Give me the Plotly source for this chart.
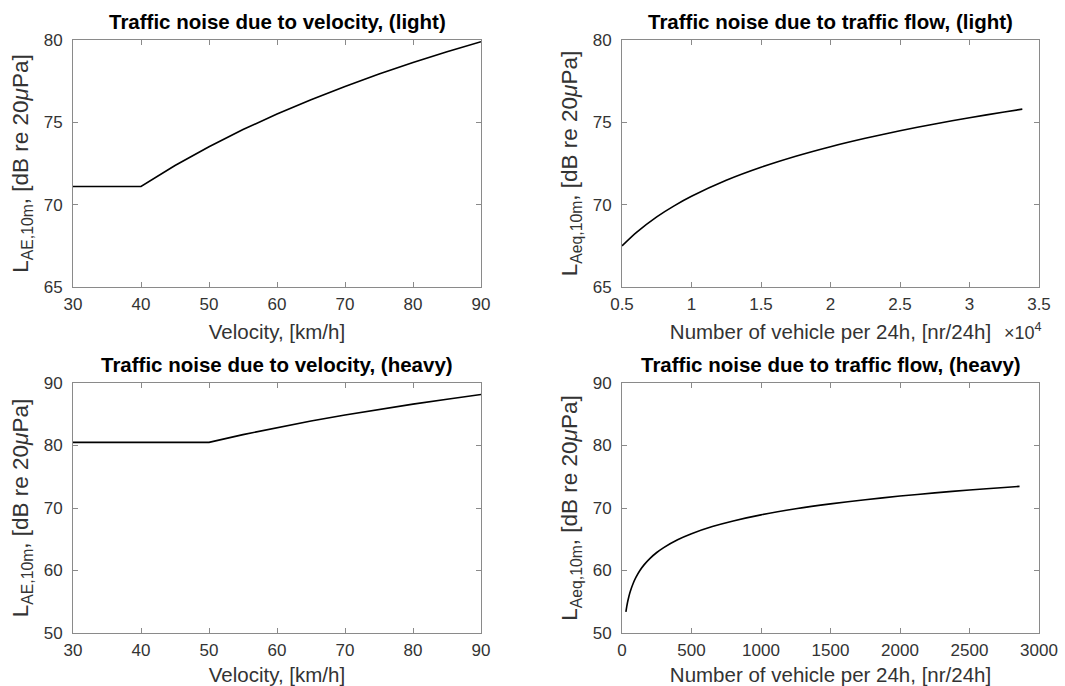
import plotly.graph_objects as go

# --- Light vehicles: sound exposure level vs velocity ---
vel_light = [30, 40, 45, 50, 55, 60, 65, 70, 75, 80, 85, 90]
lae_light = [71.10, 71.10, 72.38, 73.52, 74.56, 75.50, 76.37, 77.18, 77.93, 78.63, 79.28, 79.90]

# --- Heavy vehicles: sound exposure level vs velocity ---
vel_heavy = [30, 50, 55, 60, 65, 70, 75, 80, 85, 90]
lae_heavy = [80.50, 80.50, 81.74, 82.88, 83.92, 84.88, 85.78, 86.62, 87.41, 88.16]

# --- Light vehicles: equivalent level vs traffic flow (vehicles / 24h) ---
flow_light = [5000, 6000, 7500, 8750, 10000, 12500, 15000, 17500, 20000, 22500,
              25000, 27500, 30000, 32500, 33800]
laeq_light = [67.50, 68.29, 69.26, 69.93, 70.51, 71.48, 72.27, 72.94, 73.52, 74.03,
              74.49, 74.90, 75.28, 75.63, 75.80]

# --- Heavy vehicles: equivalent level vs traffic flow (vehicles / 24h) ---
flow_heavy = [28, 34, 40, 50, 60, 80, 100, 130, 160, 200, 250, 300, 400, 500, 650,
              800, 1000, 1250, 1500, 1750, 2000, 2250, 2500, 2750, 2860]
laeq_heavy = [53.37, 54.21, 54.92, 55.89, 56.68, 57.93, 58.90, 60.04, 60.94, 61.91,
              62.88, 63.67, 64.92, 65.89, 67.03, 67.93, 68.90, 69.87, 70.66, 71.33,
              71.91, 72.42, 72.88, 73.29, 73.46]

flow_light_ticks = [5000, 10000, 15000, 20000, 25000, 30000, 35000]
flow_light_ticktext = ["0.5", "1", "1.5", "2", "2.5", "3", "3.5"]

titles = [
    "Traffic noise due to velocity, (light)",
    "Traffic noise due to traffic flow, (light)",
    "Traffic noise due to velocity, (heavy)",
    "Traffic noise due to traffic flow, (heavy)",
]

W, H = 1065, 686
FONT = "Liberation Sans, Arial, sans-serif"
TXT = "#333333"
AX = "#8a8a8a"

# panel boxes in pixels: (left, right, top, bottom)
boxes = [
    (73, 481, 40, 287),
    (622, 1039, 40, 287),
    (73, 481, 383, 633),
    (622, 1039, 383, 633),
]

def xd(l, r):
    return [l / W, r / W]

def yd(t, b):
    return [1 - b / H, 1 - t / H]

fig = go.Figure()
series = [(vel_light, lae_light, "linear"), (flow_light, laeq_light, "spline"),
          (vel_heavy, lae_heavy, "linear"), (flow_heavy, laeq_heavy, "spline")]
for i, (xs, ys, shape) in enumerate(series):
    sfx = "" if i == 0 else str(i + 1)
    line = dict(color="black", width=1.6, shape=shape)
    if shape == "spline":
        line["smoothing"] = 0.6
    fig.add_trace(go.Scatter(x=xs, y=ys, mode="lines", xaxis="x" + sfx, yaxis="y" + sfx,
                             line=line, showlegend=False, hoverinfo="skip"))

common = dict(showline=True, linecolor=AX, linewidth=1, mirror="ticks", ticks="inside",
              ticklen=5, tickcolor=AX, showgrid=False, zeroline=False, automargin=False,
              tickfont=dict(family=FONT, size=17, color=TXT))

ylab_ae = "L<sub>AE,10m</sub>, [dB re 20<i>μ</i>Pa]"
ylab_aeq = "L<sub>Aeq,10m</sub>, [dB re 20<i>μ</i>Pa]"
xlab_v = "Velocity, [km/h]"
xlab_n = "Number of vehicle per 24h, [nr/24h]"

xcfg = [
    dict(range=[30, 90], tickvals=[30, 40, 50, 60, 70, 80, 90], title=xlab_v),
    dict(range=[5000, 35000], tickvals=flow_light_ticks, ticktext=flow_light_ticktext, title=xlab_n),
    dict(range=[30, 90], tickvals=[30, 40, 50, 60, 70, 80, 90], title=xlab_v),
    dict(range=[0, 3000], tickvals=[0, 500, 1000, 1500, 2000, 2500, 3000], title=xlab_n),
]
ycfg = [
    dict(range=[65, 80], tickvals=[65, 70, 75, 80], title=ylab_ae),
    dict(range=[65, 80], tickvals=[65, 70, 75, 80], title=ylab_aeq),
    dict(range=[50, 90], tickvals=[50, 60, 70, 80, 90], title=ylab_ae),
    dict(range=[50, 90], tickvals=[50, 60, 70, 80, 90], title=ylab_aeq),
]

layout = dict(width=W, height=H, margin=dict(l=0, r=0, t=0, b=0),
              paper_bgcolor="white", plot_bgcolor="white", annotations=[])
for i, (l, r, t, b) in enumerate(boxes):
    sfx = "" if i == 0 else str(i + 1)
    xc = dict(common)
    xc.update(domain=xd(l, r), anchor="y" + sfx, ticklabelstandoff=2)
    xc.update({k: v for k, v in xcfg[i].items() if k != "title"})
    xc["title"] = dict(text=xcfg[i]["title"], font=dict(family=FONT, size=20.5, color=TXT), standoff=11)
    yc = dict(common)
    yc.update(domain=yd(t, b), anchor="x" + sfx, ticklabelstandoff=6)
    yc.update({k: v for k, v in ycfg[i].items() if k != "title"})
    yc["title"] = dict(text=ycfg[i]["title"], font=dict(family=FONT, size=22.5, color=TXT), standoff=8)
    layout["xaxis" + sfx] = xc
    layout["yaxis" + sfx] = yc
    layout["annotations"].append(dict(
        text="<b>" + titles[i] + "</b>", x=(l + r) / 2 / W, y=1 - (t - 5) / H,
        xref="paper", yref="paper", xanchor="center", yanchor="bottom", showarrow=False,
        font=dict(family=FONT, size=20.5, color="black")))

# exponent label for the scaled flow axis
layout["annotations"].append(dict(
    text="×10<sup>4</sup>", x=1002 / W, y=1 - 331 / H, xref="paper", yref="paper",
    xanchor="left", yanchor="middle", showarrow=False,
    font=dict(family=FONT, size=18, color=TXT)))

fig.update_layout(**layout)
fig.write_html("out.html")
